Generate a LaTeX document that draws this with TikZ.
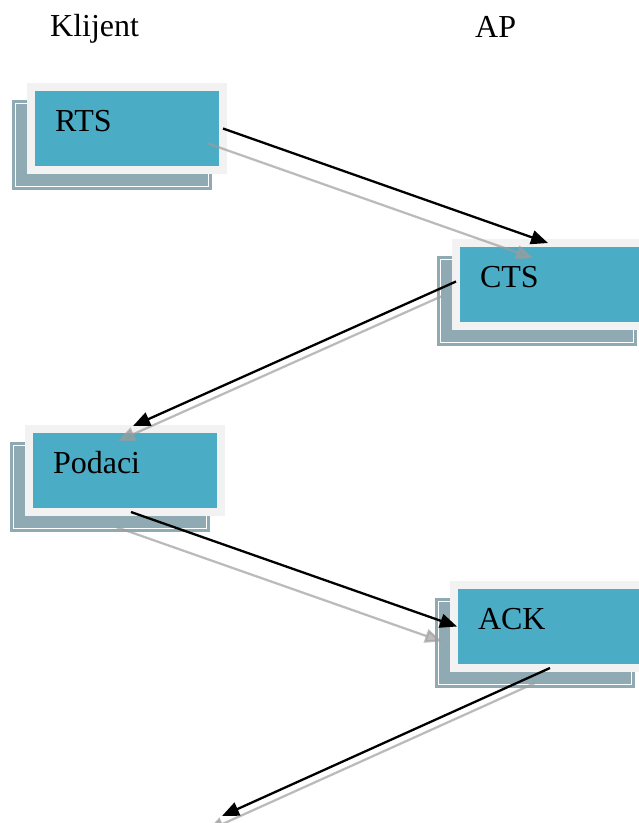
\documentclass[tikz,border=0pt]{standalone}
\usepackage{fontspec}
\setmainfont{Liberation Serif}
\usetikzlibrary{calc, arrows.meta}
\definecolor{boxblue}{RGB}{75,172,198}
\definecolor{boxframe}{RGB}{242,242,242}
\definecolor{boxshade}{RGB}{143,170,178}
\definecolor{msggray}{RGB}{157,157,157}
\tikzstyle{msg}=[draw=boxframe, line width=8pt, fill=boxblue, minimum width=192pt, minimum height=83pt, inner xsep=24pt, inner ysep=0pt, outer sep=0pt, text width=144pt, align=left, text height=25pt, text depth=20pt, font=\fontsize{32}{36}\selectfont]
\tikzstyle{msgshadow}=[draw=boxshade, double=white, double distance=1pt, line width=3pt, fill=boxshade, minimum width=193pt, minimum height=83pt, inner sep=0pt]
\tikzstyle{head}=[anchor=base west, inner sep=0pt, font=\fontsize{32}{36}\selectfont]
\tikzstyle{sig}=[-{Triangle[length=17pt,width=14pt]}, line width=2.3pt]
\tikzstyle{sigshadow}=[sig, draw=msggray, fill=msggray, opacity=.67, transform canvas={shift={(-15,15)}}]

\begin{document}
\begin{tikzpicture}[x=1pt,y=-1pt]
  \useasboundingbox (0,0) rectangle (639,823);
  \node[head] (klijent) at (50,36) {Klijent};
  \node[head] (ap) at (475,37) {AP};
  % shadows behind the boxes
  \node[msgshadow] (rtsS) at (112,144.5) {};
  \node[msgshadow] (ctsS) at (537,300.5) {};
  \node[msgshadow] (podaciS) at (110,486.5) {};
  \node[msgshadow] (ackS) at (535,642.5) {};
  % message boxes
  \node[msg] (rts) at (127,128.5) {RTS};
  \node[msg] (cts) at (552,284.5) {CTS};
  \node[msg] (podaci) at (125,470.5) {Podaci};
  \node[msg] (ack) at (550,626.5) {ACK};
  \coordinate (next) at (222,816);
  % grey copies of the arrows
  \draw[sigshadow] (rts.east) -- ([xshift=-4pt]cts.north);
  \draw[sigshadow] ([yshift=3pt]cts.west) -- ([xshift=8pt,yshift=3pt]podaci.north);
  \draw[sigshadow] ([xshift=6pt]podaci.south) -- ([xshift=3pt]ack.west);
  \draw[sigshadow] (ack.south) -- (next);
  % arrows
  \draw[sig] (rts.east) -- ([xshift=-4pt]cts.north);
  \draw[sig] ([yshift=3pt]cts.west) -- ([xshift=8pt,yshift=3pt]podaci.north);
  \draw[sig] ([xshift=6pt]podaci.south) -- ([xshift=3pt]ack.west);
  \draw[sig] (ack.south) -- (next);
\end{tikzpicture}
\end{document}
